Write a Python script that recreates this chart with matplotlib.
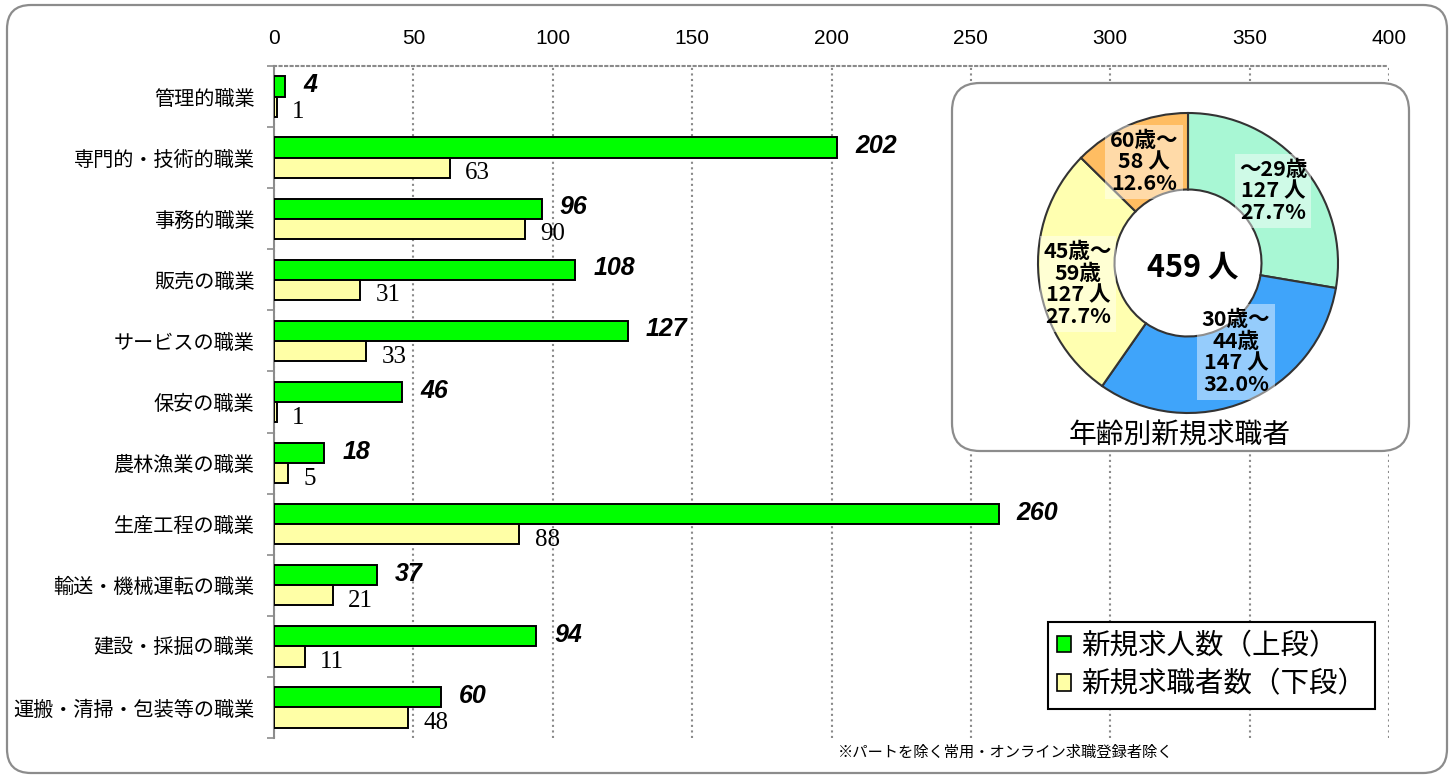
import matplotlib
matplotlib.use("Agg")
import matplotlib.pyplot as plt
from matplotlib.patches import FancyBboxPatch, Patch
import numpy as np

plt.rcParams['font.family'] = ['Noto Sans CJK JP', 'DejaVu Sans']

# ---------------- data ----------------
categories = ['管理的職業', '専門的・技術的職業', '事務的職業', '販売の職業', 'サービスの職業',
              '保安の職業', '農林漁業の職業', '生産工程の職業', '輸送・機械運転の職業',
              '建設・採掘の職業', '運搬・清掃・包装等の職業']
job_offers = [4, 202, 96, 108, 127, 46, 18, 260, 37, 94, 60]
job_seekers = [1, 63, 90, 31, 33, 1, 5, 88, 21, 11, 48]
x_ticks = [0, 50, 100, 150, 200, 250, 300, 350, 400]

age_labels = ['～29歳', '30歳～\n44歳', '45歳～\n59歳', '60歳～']
age_counts = [127, 147, 127, 58]
age_pct = [27.7, 32.0, 27.7, 12.6]
total_seekers = 459

legend_labels = ['新規求人数（上段）', '新規求職者数（下段）']
donut_title = '年齢別新規求職者'
footnote = '※パートを除く常用・オンライン求職登録者除く'

W, H = 1454, 778
fig = plt.figure(figsize=(W / 100, H / 100), dpi=100)
fig.patch.set_facecolor('white')


def frac(x0, y0, w, h):
    return [x0 / W, 1 - (y0 + h) / H, w / W, h / H]


# background overlay (outer rounded frame)
bg = fig.add_axes([0, 0, 1, 1], zorder=0)
bg.set_xlim(0, W)
bg.set_ylim(H, 0)
bg.axis('off')
bg.add_patch(FancyBboxPatch((7, 5), 1440, 768, boxstyle='round,pad=0,rounding_size=24',
                            fc='white', ec='#8c8c8c', lw=1.6))

# ---------------- main bar chart ----------------
ax = fig.add_axes(frac(274, 66, 1115, 672), zorder=1)
ax.patch.set_alpha(0)
n = len(categories)
y = np.arange(n)
bh = 0.33
green = '#00ff00'
yellow = '#ffffa6'
ax.barh(y - bh / 2, job_offers, height=bh, color=green, edgecolor='black', lw=1.4, zorder=3)
ax.barh(y + bh / 2, job_seekers, height=bh, color=yellow, edgecolor='black', lw=1.4, zorder=3)

for i in range(n):
    ax.annotate(str(job_offers[i]), (job_offers[i], y[i] - bh / 2), xytext=(13, 1),
                textcoords='offset points', va='center', ha='left', fontsize=18,
                fontweight='bold', fontstyle='italic', family=['Liberation Sans'], zorder=5)
    ax.annotate(str(job_seekers[i]), (job_seekers[i], y[i] + bh / 2), xytext=(11, -4),
                textcoords='offset points', va='center', ha='left', fontsize=18,
                family=['Liberation Serif'], zorder=5)

ax.set_xlim(0, 400)
ax.set_ylim(n - 0.5, -0.5)
ax.xaxis.tick_top()
ax.set_xticks(x_ticks)
ax.set_xticklabels([str(t) for t in x_ticks], family=['Liberation Sans'], fontsize=15)
ax.tick_params(axis='x', length=0, pad=13)
ax.set_yticks(y)
ax.set_yticklabels(categories, fontsize=14.5)
ax.tick_params(axis='y', which='major', length=0, pad=14)
ax.set_yticks(np.arange(-0.5, n, 1.0), minor=True)
ax.tick_params(axis='y', which='minor', length=5, color='#8c8c8c', width=1.2)
ax.grid(axis='x', linestyle=':', color='#8a8a8a', lw=1.5, zorder=0)
for s in ['right', 'bottom']:
    ax.spines[s].set_visible(False)
ax.spines['top'].set_linestyle(':')
ax.spines['top'].set_color('#8a8a8a')
ax.spines['top'].set_linewidth(1.5)
ax.spines['left'].set_color('#8c8c8c')
ax.spines['left'].set_linewidth(1.5)

handles = [Patch(fc=green, ec='black', lw=1.2), Patch(fc=yellow, ec='black', lw=1.2)]
leg = ax.legend(handles, legend_labels, loc='upper left',
                bbox_to_anchor=(1048 / W, 1 - 622 / H), bbox_transform=fig.transFigure,
                borderaxespad=0, fontsize=20.5, fancybox=False, edgecolor='black',
                handlelength=0.5, handleheight=0.5, handletextpad=0.35, borderpad=0.32,
                labelspacing=0.3, framealpha=1)
leg.get_frame().set_linewidth(1.5)

# footnote
bg2 = fig.add_axes([0, 0, 1, 1], zorder=2)
bg2.set_xlim(0, W)
bg2.set_ylim(H, 0)
bg2.axis('off')
bg2.text(1006, 752, footnote, ha='center', va='center', fontsize=11)

# inset box
bg2.add_patch(FancyBboxPatch((952, 83), 457, 368, boxstyle='round,pad=0,rounding_size=28',
                             fc='white', ec='#8c8c8c', lw=1.6))

# ---------------- donut ----------------
cx, cy, R = 1188, 263, 150
side = 320
axd = fig.add_axes(frac(cx - side / 2, cy - side / 2, side, side), zorder=3)
colors = ['#a8f7d4', '#3fa4fa', '#ffffb0', '#ffbd62']
axd.pie(age_counts, colors=colors, startangle=90, counterclock=False, radius=1.0,
        wedgeprops=dict(width=0.51, edgecolor='#333333', linewidth=1.5))
lim = side / 2 / R
axd.set_xlim(-lim, lim)
axd.set_ylim(-lim, lim)
axd.set_aspect('equal')
axd.axis('off')

top = fig.add_axes([0, 0, 1, 1], zorder=4)
top.set_xlim(0, W)
top.set_ylim(H, 0)
top.axis('off')
label_pos = [(1273, 191), (1236, 352), (1078, 284), (1144, 162)]
for lab, cnt, pct, (lx, ly) in zip(age_labels, age_counts, age_pct, label_pos):
    top.text(lx, ly, f'{lab}\n{cnt} 人\n{pct:.1f}%', ha='center', va='center',
             fontsize=15.5, fontweight='bold', linespacing=1.05,
             bbox=dict(boxstyle='square,pad=0.2', fc='white', ec='none', alpha=0.45))
top.text(1193, 268, f'{total_seekers} 人', ha='center', va='center', fontsize=22,
         fontweight='bold')
top.text(1180, 436, donut_title, ha='center', va='center', fontsize=20)

fig.savefig('out.png', dpi=100)
